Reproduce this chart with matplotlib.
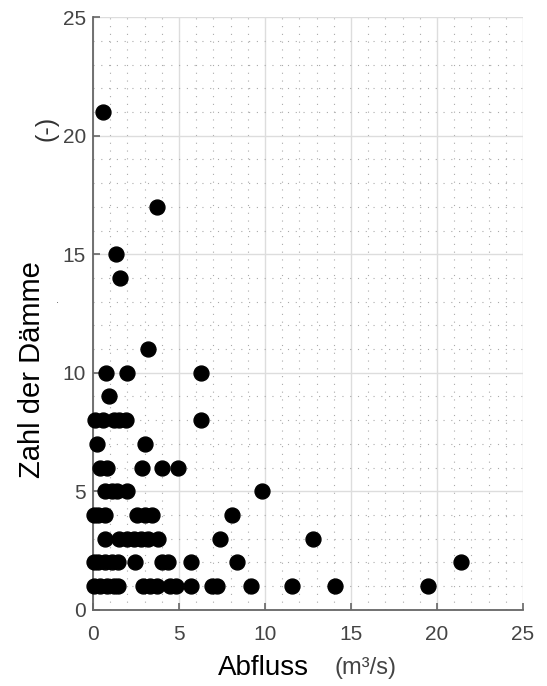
import matplotlib.pyplot as plt
from matplotlib.ticker import MultipleLocator

plt.rcParams['font.family'] = ['Liberation Sans', 'DejaVu Sans']

abfluss = [0.05, 0.4, 0.8, 1.2, 1.45, 2.9, 3.3, 3.7, 4.5, 4.8, 5.7, 6.9, 7.2, 9.2, 11.6, 14.1, 19.5,
           0.05, 0.3, 0.7, 1.1, 1.45, 2.45, 4.0, 4.35, 5.7, 8.4, 21.4,
           0.7, 1.5, 2.0, 2.4, 2.8, 3.2, 3.8, 7.4, 12.8,
           0.05, 0.3, 0.7, 2.55, 3.0, 3.45, 8.1,
           0.7, 1.1, 1.4, 2.0, 9.8,
           0.4, 0.8, 2.85, 4.0, 4.95,
           0.25, 3.0,
           0.1, 0.6, 1.2, 1.5, 1.9, 6.3,
           0.95,
           0.75, 2.0, 6.3,
           3.2, 1.55, 1.35, 3.7, 0.6]
daemme = [1] * 17 + [2] * 11 + [3] * 9 + [4] * 7 + [5] * 5 + [6] * 5 + [7] * 2 + [8] * 6 + [9] + [10] * 3 \
    + [11, 14, 15, 17, 21]

fig = plt.figure(figsize=(5.47, 6.86), dpi=100)
ax = fig.add_axes([0.170, 0.111, 0.786, 0.864])

ax.scatter(abfluss, daemme, s=115, color='black', zorder=3, clip_on=False)

ax.set_xlim(0, 25)
ax.set_ylim(0, 25)
ax.xaxis.set_major_locator(MultipleLocator(5))
ax.yaxis.set_major_locator(MultipleLocator(5))
ax.xaxis.set_minor_locator(MultipleLocator(1))
ax.yaxis.set_minor_locator(MultipleLocator(1))

ax.grid(True, which='major', color='#dddddd', linewidth=1.0, zorder=0)
ax.grid(True, which='minor', color='#aaaaaa', linewidth=0.8, linestyle=(0, (1, 6)), zorder=0)

for s in ['top', 'right']:
    ax.spines[s].set_visible(False)
for s in ['left', 'bottom']:
    ax.spines[s].set_color('#666666')
    ax.spines[s].set_linewidth(1.3)

ax.tick_params(which='major', direction='in', length=5, width=1.2, color='#666666',
               labelsize=15, labelcolor='#444444')
ax.tick_params(axis='x', pad=11)
ax.tick_params(axis='y', pad=5)
ax.tick_params(which='minor', length=0)

fig.text(32 / 547, 1 - 370 / 686, 'Zahl der Dämme', rotation=90, fontsize=21,
         ha='center', va='center', color='black')
fig.text(46 / 547, 1 - 128 / 686, '(-)', rotation=90, fontsize=18,
         ha='center', va='center', color='#333333')
fig.text(58 / 547, 1 - 300 / 686, '.', fontsize=8, ha='center', va='center', color='#555555')
fig.text(263 / 547, 1 - 668 / 686, 'Abfluss', fontsize=20, ha='center', va='center', color='black')
fig.text(366 / 547, 1 - 668 / 686, '(m³/s)', fontsize=17, ha='center', va='center', color='#444444')

fig.savefig('out.png', dpi=100)
